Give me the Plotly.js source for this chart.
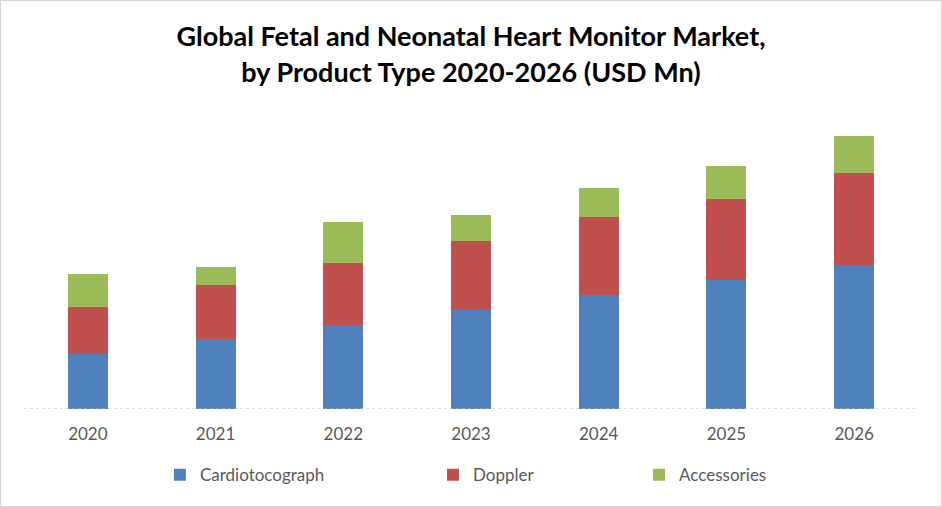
<!DOCTYPE html>
<html>
<head>
<meta charset="utf-8">
<script src="https://cdn.plot.ly/plotly-3.0.1.min.js"></script>
<style>
  html, body { margin: 0; padding: 0; background: #ffffff; }
  #chart { width: 942px; height: 507px; box-sizing: border-box; border: 1px solid #d4d4d4; }
</style>
</head>
<body>
<div id="chart"></div>
<script>
const years = ['2020', '2021', '2022', '2023', '2024', '2025', '2026'];
const cardiotocograph = [55.3, 70, 84, 99.3, 114, 129, 144];
const doppler = [46.7, 54, 62, 68.7, 78, 81, 92];
const accessories = [33, 18, 41, 26, 29, 33, 37];

const fontFam = 'Lato, "Open Sans", sans-serif';

const traces = [
  { type: 'bar', name: 'Cardiotocograph', x: years, y: cardiotocograph,
    marker: { color: '#4f81bd' }, legend: 'legend', hoverinfo: 'x+y+name' },
  { type: 'bar', name: 'Doppler', x: years, y: doppler,
    marker: { color: '#c0504d' }, legend: 'legend2', hoverinfo: 'x+y+name' },
  { type: 'bar', name: 'Accessories', x: years, y: accessories,
    marker: { color: '#9bbb59' }, legend: 'legend3', hoverinfo: 'x+y+name' }
];

const legendBase = { orientation: 'h', yanchor: 'middle', xanchor: 'left', y: -0.214,
  font: { family: fontFam, size: 17, color: '#595959' }, bgcolor: 'rgba(0,0,0,0)' };

const layout = {
  width: 940, height: 505,
  margin: { l: 23, r: 23, t: 99, b: 97 },
  paper_bgcolor: '#ffffff', plot_bgcolor: '#ffffff',
  barmode: 'stack', bargap: 0.687,
  title: { text: '<b>Global Fetal and Neonatal Heart Monitor Market,<br>by Product Type 2020-2026 (USD Mn)</b>',
    x: 0.5, xanchor: 'center', y: 0.91, yanchor: 'top', yref: 'container',
    font: { family: fontFam, size: 27, color: '#000000' } },
  xaxis: { type: 'category', showgrid: false, zeroline: false, showline: false,
    ticks: '', ticklabelstandoff: 13,
    tickfont: { family: fontFam, size: 17, color: '#595959' } },
  yaxis: { range: [0, 309], visible: false, showgrid: false, zeroline: false },
  shapes: [
    { type: 'line', xref: 'paper', yref: 'y', x0: 0, x1: 1, y0: 0, y1: 0,
      line: { color: '#bfbfbf', width: 1, dash: 'dot' }, layer: 'above' }
  ],
  showlegend: true,
  legend: Object.assign({}, legendBase, { x: 0.152 }),
  legend2: Object.assign({}, legendBase, { x: 0.4575 }),
  legend3: Object.assign({}, legendBase, { x: 0.688 })
};

Plotly.newPlot('chart', traces, layout, { displayModeBar: false, staticPlot: true });
</script>
</body>
</html>
